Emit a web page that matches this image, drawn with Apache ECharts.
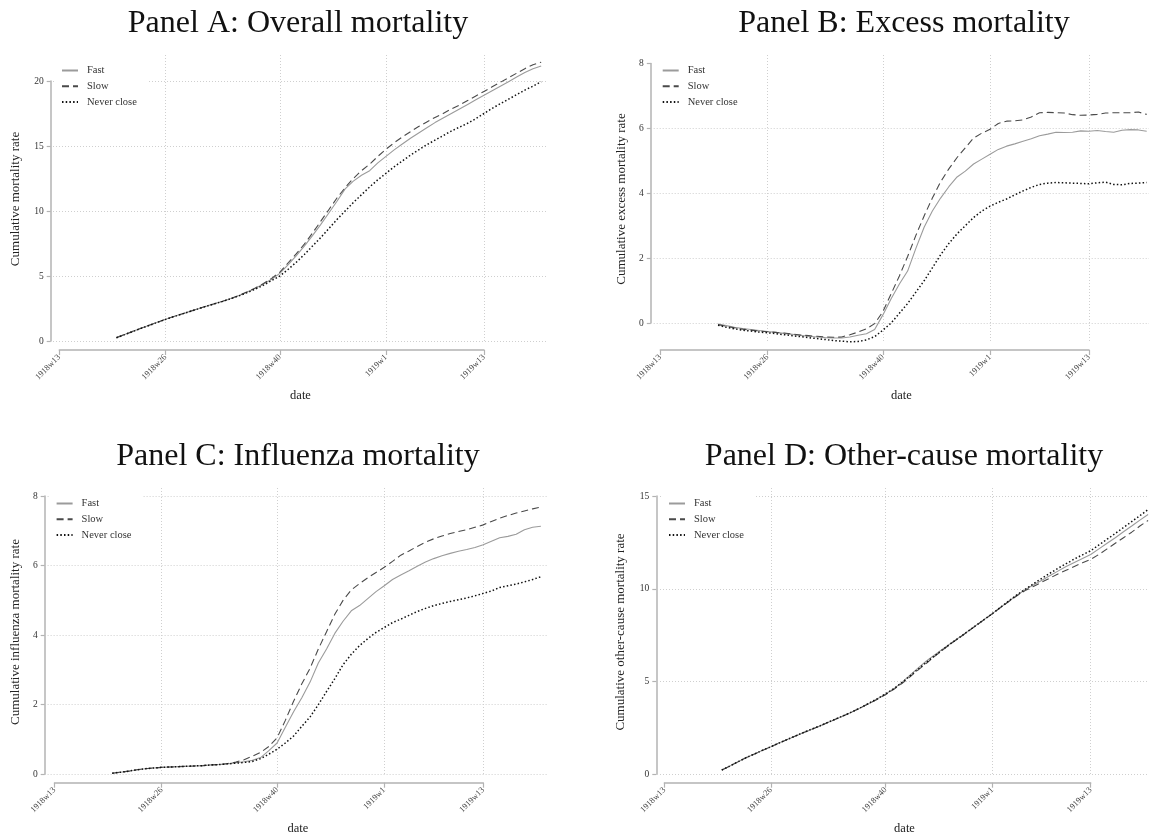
<!DOCTYPE html>
<html>
<head>
<meta charset="utf-8">
<script src="https://cdn.jsdelivr.net/npm/echarts@6/dist/echarts.min.js"></script>
<style>
html, body { margin: 0; padding: 0; background: #fff; }
#chart { width: 1149px; height: 837px; }
</style>
</head>
<body>
<div id="chart"></div>
<script>
var FONT = '"Liberation Serif", "DejaVu Serif", serif';

// x axis: weeks counted from 1918w13, data run weekly 1918w20 .. 1919w20
var xTickLabels = ['1918w13', '1918w26', '1918w40', '1919w1', '1919w13'];
var firstWeek = 7;
var seriesNames = ['Fast', 'Slow', 'Never close'];

// Panel A: overall mortality
var overallFast = [0.26, 0.50, 0.74, 0.98, 1.21, 1.44, 1.67, 1.88, 2.08, 2.28, 2.48, 2.68, 2.87, 3.06, 3.27, 3.50, 3.76, 4.05, 4.38, 4.75,
    5.2, 5.85, 6.55, 7.3, 8.1, 8.95, 9.85, 10.75, 11.7, 12.3, 12.75, 13.1, 13.7, 14.2, 14.7, 15.15, 15.6, 16.0, 16.4, 16.8,
    17.15, 17.5, 17.85, 18.2, 18.55, 18.9, 19.25, 19.6, 19.95, 20.3, 20.65, 20.95, 21.15];
var overallSlow = [0.26, 0.50, 0.74, 0.98, 1.21, 1.44, 1.67, 1.88, 2.08, 2.28, 2.48, 2.68, 2.87, 3.06, 3.27, 3.50, 3.78, 4.08, 4.42, 4.82,
    5.3, 6.0, 6.7, 7.45, 8.3, 9.2, 10.1, 11.0, 11.8, 12.5, 13.1, 13.6, 14.2, 14.75, 15.25, 15.7, 16.1, 16.5, 16.85, 17.2,
    17.5, 17.85, 18.15, 18.5, 18.85, 19.2, 19.55, 19.9, 20.25, 20.6, 20.95, 21.25, 21.45];
var overallNever = [0.25, 0.49, 0.73, 0.97, 1.20, 1.43, 1.66, 1.87, 2.07, 2.27, 2.47, 2.67, 2.86, 3.05, 3.25, 3.47, 3.72, 3.99, 4.3, 4.65,
    5.0, 5.5, 6.05, 6.65, 7.3, 7.95, 8.65, 9.35, 10.0, 10.65, 11.25, 11.85, 12.4, 12.9, 13.4, 13.85, 14.3, 14.7, 15.1, 15.45,
    15.8, 16.15, 16.45, 16.75, 17.1, 17.5, 17.9, 18.25, 18.6, 18.95, 19.3, 19.6, 19.95];

// Panel B: excess mortality
var excessFast = [-0.03, -0.08, -0.13, -0.17, -0.20, -0.23, -0.26, -0.29, -0.32, -0.35, -0.38, -0.41, -0.43, -0.45, -0.46, -0.46, -0.43, -0.38, -0.33, -0.20,
    0.25, 0.75, 1.2, 1.6, 2.3, 2.95, 3.45, 3.85, 4.2, 4.5, 4.68, 4.9, 5.05, 5.2, 5.35, 5.45, 5.52, 5.6, 5.68, 5.77,
    5.82, 5.88, 5.87, 5.88, 5.92, 5.91, 5.93, 5.9, 5.88, 5.94, 5.96, 5.95, 5.91];
var excessSlow = [-0.05, -0.10, -0.15, -0.19, -0.22, -0.25, -0.27, -0.29, -0.31, -0.34, -0.37, -0.39, -0.41, -0.43, -0.44, -0.43, -0.36, -0.28, -0.18, -0.02,
    0.35, 0.9, 1.45, 2.05, 2.7, 3.3, 3.85, 4.35, 4.75, 5.1, 5.4, 5.7, 5.85, 5.97, 6.15, 6.22, 6.23, 6.26, 6.35, 6.48,
    6.49, 6.48, 6.47, 6.42, 6.4, 6.41, 6.43, 6.47, 6.48, 6.48, 6.48, 6.5, 6.43];
var excessNever = [-0.07, -0.13, -0.18, -0.22, -0.25, -0.28, -0.30, -0.33, -0.36, -0.39, -0.42, -0.45, -0.48, -0.51, -0.54, -0.56, -0.58, -0.57, -0.52, -0.42,
    -0.22, 0.0, 0.3, 0.6, 0.95, 1.3, 1.7, 2.1, 2.45, 2.75, 3.0, 3.25, 3.45, 3.6, 3.72, 3.82, 3.95, 4.07, 4.18, 4.27,
    4.31, 4.33, 4.32, 4.31, 4.3, 4.29, 4.32, 4.34, 4.27, 4.26, 4.3, 4.31, 4.33];

// Panel C: influenza mortality
var fluFast = [0.03, 0.06, 0.09, 0.13, 0.16, 0.18, 0.2, 0.21, 0.22, 0.23, 0.24, 0.25, 0.27, 0.28, 0.3, 0.33, 0.36, 0.4, 0.48, 0.68,
    0.9, 1.35, 1.8, 2.2, 2.65, 3.2, 3.6, 4.05, 4.4, 4.7, 4.85, 5.05, 5.25, 5.42, 5.6, 5.73, 5.85, 5.98, 6.1, 6.2,
    6.28, 6.35, 6.41, 6.46, 6.52, 6.6, 6.7, 6.8, 6.84, 6.9, 7.03, 7.1, 7.13];
var fluSlow = [0.03, 0.06, 0.09, 0.13, 0.16, 0.18, 0.2, 0.21, 0.22, 0.23, 0.24, 0.25, 0.27, 0.28, 0.31, 0.35, 0.42, 0.52, 0.63, 0.8,
    1.05, 1.55, 2.1, 2.6, 3.05, 3.6, 4.1, 4.6, 5.0, 5.3, 5.48, 5.65, 5.8, 5.95, 6.12, 6.3, 6.42, 6.55, 6.67, 6.77,
    6.85, 6.92, 6.98, 7.03, 7.1, 7.17, 7.27, 7.36, 7.44, 7.51, 7.57, 7.63, 7.68];
var fluNever = [0.03, 0.06, 0.09, 0.13, 0.16, 0.18, 0.2, 0.21, 0.22, 0.23, 0.24, 0.25, 0.27, 0.28, 0.3, 0.32, 0.34, 0.37, 0.45, 0.58,
    0.72, 0.9, 1.1, 1.38, 1.65, 2.0, 2.38, 2.75, 3.15, 3.45, 3.7, 3.9, 4.08, 4.22, 4.36, 4.46, 4.57, 4.68, 4.77, 4.85,
    4.91, 4.97, 5.02, 5.07, 5.13, 5.2, 5.27, 5.37, 5.42, 5.47, 5.53, 5.6, 5.68];

// Panel D: other-cause mortality
var otherFast = [0.23, 0.45, 0.68, 0.9, 1.1, 1.3, 1.49, 1.69, 1.88, 2.07, 2.25, 2.43, 2.61, 2.8, 2.99, 3.18, 3.38, 3.6, 3.83, 4.07,
    4.33, 4.62, 4.97, 5.36, 5.75, 6.12, 6.45, 6.77, 7.08, 7.39, 7.7, 8.02, 8.34, 8.66, 9.0, 9.33, 9.65, 9.95, 10.2, 10.45,
    10.7, 10.95, 11.2, 11.42, 11.63, 11.85, 12.15, 12.45, 12.75, 13.07, 13.38, 13.7, 14.0];
var otherSlow = [0.23, 0.45, 0.68, 0.9, 1.1, 1.3, 1.49, 1.69, 1.88, 2.07, 2.25, 2.43, 2.61, 2.8, 2.99, 3.18, 3.38, 3.6, 3.83, 4.05,
    4.3, 4.58, 4.9, 5.27, 5.64, 6.0, 6.37, 6.72, 7.06, 7.37, 7.69, 8.01, 8.33, 8.65, 8.99, 9.31, 9.62, 9.9, 10.12, 10.35,
    10.57, 10.8, 11.0, 11.2, 11.4, 11.58, 11.85, 12.15, 12.45, 12.75, 13.05, 13.38, 13.68];
var otherNever = [0.23, 0.45, 0.68, 0.9, 1.1, 1.3, 1.49, 1.69, 1.88, 2.07, 2.26, 2.44, 2.62, 2.81, 3.0, 3.19, 3.39, 3.61, 3.84, 4.08,
    4.34, 4.62, 4.95, 5.32, 5.69, 6.05, 6.4, 6.74, 7.07, 7.38, 7.7, 8.02, 8.34, 8.66, 9.0, 9.34, 9.67, 9.97, 10.26, 10.55,
    10.83, 11.1, 11.35, 11.6, 11.83, 12.05, 12.36, 12.67, 12.98, 13.3, 13.62, 13.94, 14.27];

// week names for the drawn x axis (1918w13 .. 1919w13)
var axisWeeks = [];
for (var k = 0; k <= 52; k++) {
    axisWeeks.push(k <= 39 ? '1918w' + (13 + k) : '1919w' + (k - 39));
}

// layout of each panel in pixels (plot box, tick positions, axis lines)
var panels = [
    { title: 'Panel A: Overall mortality', titleX: 298, titleY: 8, yName: 'Cumulative mortality rate', nameGap: 31,
      data: [overallFast, overallSlow, overallNever], yTop: 20, yStep: 5, topLine: true,
      plot: [53, 55, 548, 343], x0: 59.3, x52: 484, y0: 341, yTopPx: 81, axisX: 50.7, axisY: 350 },
    { title: 'Panel B: Excess mortality', titleX: 904, titleY: 8, yName: 'Cumulative excess mortality rate', nameGap: 26,
      data: [excessFast, excessSlow, excessNever], yTop: 8, yStep: 2, topLine: false,
      plot: [653.7, 55, 1149, 343], x0: 660.3, x52: 1089, y0: 323, yTopPx: 63.4, axisX: 650.8, axisY: 350 },
    { title: 'Panel C: Influenza mortality', titleX: 298, titleY: 441, yName: 'Cumulative influenza mortality rate', nameGap: 26,
      data: [fluFast, fluSlow, fluNever], yTop: 8, yStep: 2, topLine: true,
      plot: [47.6, 488, 548, 776], x0: 54.5, x52: 483.2, y0: 774.3, yTopPx: 496, axisX: 44.7, axisY: 782.7 },
    { title: 'Panel D: Other-cause mortality', titleX: 904, titleY: 441, yName: 'Cumulative other-cause mortality rate', nameGap: 32.5,
      data: [otherFast, otherSlow, otherNever], yTop: 15, yStep: 5, topLine: true,
      plot: [660, 488, 1149, 776], x0: 664.4, x52: 1090.7, y0: 774.3, yTopPx: 496, axisX: 656.3, axisY: 782.7 }
];

var lineStyles = [
    { color: '#9b9b9b', width: 1.1, type: 'solid' },
    { color: '#4a4a4a', width: 1.1, type: [7, 4] },
    { color: '#111111', width: 1.5, type: [1.5, 2.2] }
];
var gridLine = { color: '#cfcfcf', width: 1, type: [1, 2] };
var axisColor = '#b3b3b3';
var off = { show: false };

function isTick(index, value) {
    return xTickLabels.indexOf(value) >= 0;
}

var option = {
    backgroundColor: '#fff',
    animation: false,
    title: [], legend: [], grid: [], xAxis: [], yAxis: [], series: []
};

function addGrid(left, top, width, height) {
    option.grid.push({ left: left, top: top, width: width, height: height, outerBoundsMode: 'none' });
    return option.grid.length - 1;
}

panels.forEach(function (p, n) {
    var L = p.plot[0], T = p.plot[1], R = p.plot[2], B = p.plot[3];
    var wk = (p.x52 - p.x0) / 52;
    var unit = (p.y0 - p.yTopPx) / p.yTop;

    option.title.push({
        text: p.title, left: p.titleX, top: p.titleY, textAlign: 'center', padding: 0,
        textStyle: { fontFamily: FONT, fontSize: 32, fontWeight: 'normal', color: '#111' }
    });

    // plot box with the data
    var gMain = addGrid(L, T, R - L, B - T);
    option.xAxis.push({
        gridIndex: gMain, type: 'value',
        min: (L - p.x0) / wk, max: (R - p.x0) / wk,
        name: 'date', nameLocation: 'middle', nameGap: 46,
        nameTextStyle: { fontFamily: FONT, fontSize: 12.5, color: '#222' },
        axisLine: off, axisTick: off, axisLabel: off, splitLine: off
    });
    option.yAxis.push({
        gridIndex: gMain, type: 'value',
        min: (p.y0 - B) / unit, max: (p.y0 - T) / unit,
        name: p.yName, nameLocation: 'middle', nameGap: p.nameGap,
        nameTextStyle: { fontFamily: FONT, fontSize: 13, color: '#222' },
        axisLine: off, axisTick: off, axisLabel: off, splitLine: off
    });

    // horizontal grid lines, 0 .. top tick
    var gYs = addGrid(L, p.yTopPx, R - L, p.y0 - p.yTopPx);
    option.xAxis.push({ gridIndex: gYs, type: 'value', show: false });
    option.yAxis.push({
        gridIndex: gYs, type: 'value', min: 0, max: p.yTop, interval: p.yStep,
        axisLine: off, axisTick: off, axisLabel: off,
        splitLine: { show: true, showMaxLine: p.topLine, lineStyle: gridLine }
    });

    // vertical grid lines at the week ticks
    var gXs = addGrid(p.x0, T, p.x52 - p.x0, B - T);
    option.xAxis.push({
        gridIndex: gXs, type: 'category', data: axisWeeks, boundaryGap: false,
        axisLine: off, axisTick: off, axisLabel: off,
        splitLine: { show: true, interval: isTick, showMinLine: false, lineStyle: gridLine }
    });
    option.yAxis.push({ gridIndex: gXs, type: 'value', show: false });

    // y axis line, ticks and labels
    var gYa = addGrid(p.axisX, p.yTopPx, R - p.axisX, p.y0 - p.yTopPx);
    option.xAxis.push({ gridIndex: gYa, type: 'value', show: false });
    option.yAxis.push({
        gridIndex: gYa, type: 'value', min: 0, max: p.yTop, interval: p.yStep,
        axisLine: { show: true, lineStyle: { color: axisColor, width: 1.5 } },
        axisTick: { show: true, length: 4, lineStyle: { color: axisColor, width: 1.2 } },
        axisLabel: { margin: 7, fontFamily: FONT, fontSize: 9.5, color: '#333' },
        splitLine: off
    });

    // x axis line, ticks and labels
    var gXa = addGrid(p.x0, T, p.x52 - p.x0, p.axisY - T);
    option.xAxis.push({
        gridIndex: gXa, type: 'category', data: axisWeeks, boundaryGap: false,
        axisLine: { lineStyle: { color: axisColor, width: 1.5 } },
        axisTick: { interval: isTick, length: 5, lineStyle: { color: axisColor, width: 1.2 } },
        axisLabel: { interval: isTick, rotate: 45, margin: 6, fontFamily: FONT, fontSize: 8.5, color: '#444' },
        splitLine: off
    });
    option.yAxis.push({ gridIndex: gXa, type: 'value', show: false });

    option.legend.push({
        left: L + 2, top: T, orient: 'vertical', padding: [10, 11, 6, 6],
        backgroundColor: '#fff', itemWidth: 16, itemHeight: 11, itemGap: 4.7,
        itemStyle: { opacity: 0 },
        textStyle: { fontFamily: FONT, fontSize: 10.5, color: '#333', lineHeight: 11, padding: [0, 0, 0, 4] },
        data: seriesNames
    });

    p.data.forEach(function (values, s) {
        option.series.push({
            type: 'line', name: seriesNames[s],
            xAxisIndex: gMain, yAxisIndex: gMain,
            data: values.map(function (v, j) { return [firstWeek + j, v]; }),
            symbol: 'none', showSymbol: false, silent: true,
            color: lineStyles[s].color,
            itemStyle: { color: lineStyles[s].color },
            lineStyle: lineStyles[s]
        });
    });
});

var chart = echarts.init(document.getElementById('chart'));
chart.setOption(option);
</script>
</body>
</html>
